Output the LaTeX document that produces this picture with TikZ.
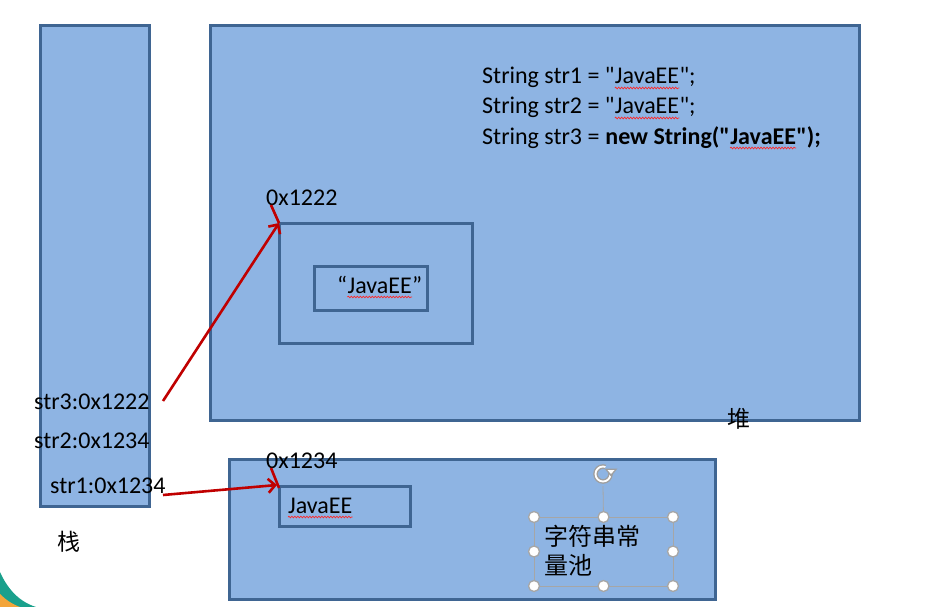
\documentclass[tikz,border=0pt]{standalone}
\usepackage{fontspec}
\setmainfont{Carlito}[Ligatures=TeXOff]
\newfontfamily\cjk{Noto Sans CJK SC}
\usetikzlibrary{arrows.meta,decorations.pathmorphing}
\definecolor{boxfill}{HTML}{8EB4E3}
\definecolor{boxline}{HTML}{3F6592}
\definecolor{arrred}{HTML}{C00000}
\definecolor{cornerteal}{HTML}{1AA08C}
\definecolor{cornerorange}{HTML}{F3A53A}
\begin{document}
\begin{tikzpicture}[x=1pt,y=-1pt,
  box/.style={draw=boxline, fill=boxfill, line width=3pt, inner sep=0pt, outer sep=0pt, anchor=north west},
  txt/.style={inner sep=0pt, anchor=base west, font=\fontsize{24}{29.5}\selectfont},
  btxt/.style={txt, font=\fontsize{24}{29.5}\selectfont\bfseries},
  cjktxt/.style={inner sep=0pt, font=\cjk\fontsize{23}{28}\selectfont},
  ptr/.style={draw=arrred, line width=2.6pt, -{Straight Barb[length=7pt,width=14pt,line width=2.6pt]}},
  tick/.style={draw=arrred, line width=2.6pt},
  wavy/.style={draw=red!85!white, line width=0.7pt, decorate, decoration={snake, amplitude=0.8pt, segment length=3pt}},
  handle/.style={circle, draw=gray!70, fill=white, line width=1.3pt, minimum size=11pt, inner sep=0pt}
]
\useasboundingbox (0,0) rectangle (942,607);
\fill[white] (0,0) rectangle (942,607);
% corner decoration
\fill[cornerteal] (0,572) .. controls (8,590) and (20,602) .. (36,607) -- (0,607) -- cycle;
\fill[cornerorange] (0,594) .. controls (6,600) and (12,604) .. (20,607) -- (0,607) -- cycle;

% boxes
\node[box, minimum width=109pt, minimum height=480pt] (stack) at (40,26) {};
\node[box, minimum width=649pt, minimum height=394pt] (heap) at (210,26) {};
\node[box, minimum width=193pt, minimum height=120pt] (inner) at (279,223) {};
\node[box, minimum width=113pt, minimum height=44pt] (innerstr) at (314,266) {};
\node[box, minimum width=486pt, minimum height=140pt] (pool) at (229,459) {};
\node[box, minimum width=131pt, minimum height=40pt] (poolstr) at (279,486) {};

% code lines
\node[txt] (c1a) at (482,84) {String str1 = "};
\node[txt] (c1b) at (c1a.base east) {JavaEE};
\node[txt] (c1c) at (c1b.base east) {";};
\node[txt] (c2a) at (482,114) {String str2 = "};
\node[txt] (c2b) at (c2a.base east) {JavaEE};
\node[txt] (c2c) at (c2b.base east) {";};
\node[txt] (c3a) at (482,144) {String str3 = \mbox{}};
\node[btxt] (c3b) at (c3a.base east) {new String("};
\node[btxt] (c3c) at (c3b.base east) {JavaEE};
\node[btxt] (c3d) at (c3c.base east) {");};

% heap contents
\node[txt] (addr1) at (266,205) {0x1222};
\node[txt] (q1) at (337,293) {“};
\node[txt] (q2) at (q1.base east) {JavaEE};
\node[txt] (q3) at (q2.base east) {”};

% stack labels
\node[txt] (s3) at (34,409) {str3:0x1222};
\node[txt] (s2) at (34,448) {str2:0x1234};
\node[txt] (s1) at (50,493) {str1:0x1234};
\node[cjktxt] (zhan) at (69,542) {栈};
\node[cjktxt] (dui) at (739,419) {堆};

% pool contents
\node[txt] (addr2) at (266,468) {0x1234};
\node[txt] (p1) at (288,513) {JavaEE};

% spell-check underlines
\foreach \w in {c1b,c2b,c3c,q2,p1}
  \draw[wavy] ([yshift=-4pt]\w.base west) -- ([yshift=-4pt]\w.base east);

% pointers
\coordinate (a3) at (163,401);
\coordinate (a1) at (163,495);
\draw[ptr] (a3) -- (inner.north west);
\draw[tick] ([xshift=5pt]addr1.base west) -- (inner.north west);
\draw[ptr] (a1) -- ([xshift=-2pt,yshift=1pt]poolstr.north west);
\draw[tick] ([xshift=5pt]addr2.base west) -- ([yshift=-2pt]poolstr.north west);

% selected text box
\node[draw=gray!70, line width=0.8pt, minimum width=139pt, minimum height=69pt, inner sep=0pt, outer sep=0pt, anchor=north west] (sel) at (534,517) {};
\node[cjktxt, anchor=west, font=\cjk\fontsize{24}{29}\selectfont] (pn1) at (544,536) {字符串常};
\node[cjktxt, anchor=west, font=\cjk\fontsize{24}{29}\selectfont] (pn2) at (544,565) {量池};
\node[circle, minimum size=24pt, inner sep=0pt] (rot) at (603,474) {};
\draw[gray!70, line width=0.8pt] (rot.south) -- (sel.north);
% rotation handle icon
\draw[gray!75, line width=4.6pt] (rot.center) circle[radius=7.5pt];
\draw[white, line width=1.8pt] (rot.center) circle[radius=7.5pt];
\fill[boxfill] (603,474) -- (617,469) -- (613,463.5) -- (607,462.8) -- cycle;
\fill[gray!75] (604.5,468.5) -- (617.5,468.5) -- (611,476.5) -- cycle;
\fill[white] (607.5,470) -- (614.5,470) -- (611,474) -- cycle;
\foreach \a/\n in {north west/1, north/2, north east/3, east/4, south east/5, south/6, south west/7, west/8}
  \node[handle] (h\n) at (sel.\a) {};
\end{tikzpicture}
\end{document}
